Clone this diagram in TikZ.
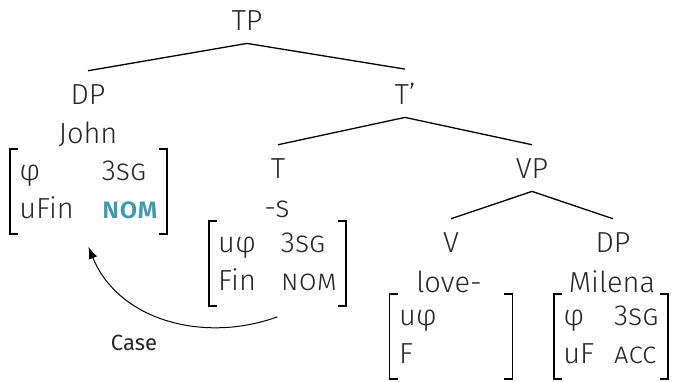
\documentclass[tikz,border=0pt]{standalone}
\usepackage{fontspec}
\setmainfont{Fira Sans}[UprightFont=* Light, BoldFont=* Medium]
\newfontfamily\casefont{Fira Sans}
\usetikzlibrary{arrows.meta}

\definecolor{nomcol}{HTML}{3F98AD}

% square brackets round a feature node
\newcommand{\featbrackets}[1]{%
    \draw[brack] ([xshift=4pt]#1.north west) -- (#1.north west) -- (#1.south west) -- ([xshift=4pt]#1.south west);
    \draw[brack] ([xshift=-4pt]#1.north east) -- (#1.north east) -- (#1.south east) -- ([xshift=-4pt]#1.south east);}

\begin{document}
\begin{tikzpicture}[x=0.5pt,y=0.5pt,
    font=\fontsize{14.5}{19}\selectfont, text=black!85,
    cat/.style={anchor=base, inner sep=6.5pt},
    word/.style={anchor=base, inner sep=0pt},
    feats/.style={anchor=north, inner xsep=4.5pt, inner ysep=2pt},
    branch/.style={line width=0.65pt},
    brack/.style={line width=0.75pt}]

    \useasboundingbox (0,0) rectangle (673,-381);

    % categories
    \node[cat] (tp) at (247,-30) {TP};
    \node[cat] (dp) at (88,-104) {DP};
    \node[cat] (tbar) at (405,-104) {T'};
    \node[cat] (t) at (278,-178) {T};
    \node[cat] (vp) at (532,-178) {VP};
    \node[cat] (v) at (451,-252) {V};
    \node[cat] (dpobj) at (613,-252) {DP};

    \draw[branch] (tp.south) -- (dp.north);
    \draw[branch] (tp.south) -- (tbar.north);
    \draw[branch] (tbar.south) -- (t.north);
    \draw[branch] (tbar.south) -- (vp.north);
    \draw[branch] (vp.south) -- (v.north);
    \draw[branch] (vp.south) -- (dpobj.north);

    % words
    \node[word] (john) at (88,-143) {John};
    \node[word] (suffix) at (277,-217) {\textsc{-s}};
    \node[word] (love) at (449,-292) {love-};
    \node[word] (milena) at (612,-292) {Milena};

    % feature bundles
    \node[feats] (jfeat) at (88.5,-149) {\begin{tabular}{@{}l@{\hspace{14pt}}l@{}}
        φ & 3\textsc{sg}\\
        uFin & \textcolor{nomcol}{\textbf{\textsc{nom}}}
    \end{tabular}};
    \node[feats] (tfeat) at (277.5,-221) {\begin{tabular}{@{}l@{\hspace{12.5pt}}l@{}}
        uφ & 3\textsc{sg}\\
        Fin & \textsc{nom}
    \end{tabular}};
    \node[feats] (vfeat) at (451,-294) {\begin{tabular}{@{}p{52pt}@{}}
        uφ\\
        F
    \end{tabular}};
    \node[feats] (mfeat) at (611,-294) {\begin{tabular}{@{}l@{\hspace{10pt}}l@{}}
        φ & 3\textsc{sg}\\
        uF & \textsc{acc}
    \end{tabular}};

    \featbrackets{jfeat}
    \featbrackets{tfeat}
    \featbrackets{vfeat}
    \featbrackets{mfeat}

    % case assignment
    \draw[-{Latex[length=6pt,width=4.5pt]}, line width=0.5pt]
        ([yshift=-5.5pt]tfeat.south) to[out=200, in=-68] ([yshift=-6.5pt]jfeat.south);
    \node[font=\casefont\fontsize{11}{13}\selectfont] (case) at (134,-343) {Case};

\end{tikzpicture}
\end{document}
